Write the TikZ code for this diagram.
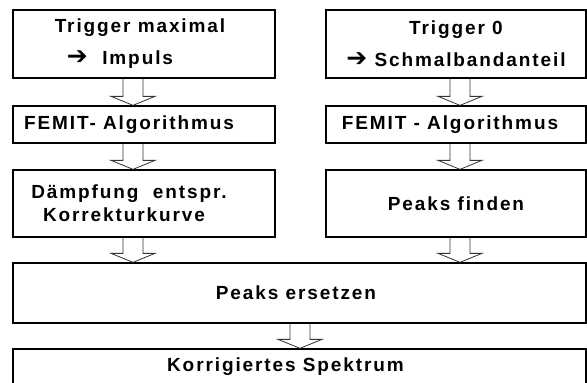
\documentclass[tikz,border=0pt]{standalone}
\usepackage{fontspec}
\setmainfont{Liberation Sans}
\newfontfamily\kastenfont{Liberation Sans Bold}[LetterSpace=10]
\newfontfamily\pfeilfont{DejaVu Sans Bold}
\usetikzlibrary{calc}
\newcommand\pfeil{{\pfeilfont\fontsize{25}{20}\selectfont ➔}}
\tikzset{
    kasten/.style={
        draw,
        line width=1.3pt,
        rectangle,
        inner sep=0pt,
        align=center,
        font=\kastenfont\fontsize{19}{23}\selectfont
    },
    hohlpfeil/.style={
        draw=black!80,
        line width=0.8pt,
        to path={let \p1=(\tikztostart), \p2=(\tikztotarget) in
            (\x1-10pt,\y1) -- (\x1-10pt,\y2+9pt) -- (\x1-22pt,\y2+9pt)
            -- (\x1,\y2) -- (\x1+22pt,\y2+9pt) -- (\x1+10pt,\y2+9pt)
            -- (\x1+10pt,\y1)}
    }
}
\begin{document}
\begin{tikzpicture}[
    x=1pt,
    y=1pt
]
    \useasboundingbox (0,0) rectangle (587,-383);

    % Kästen
    \node[kasten, minimum width=262, minimum height=68] (trigL) at (144,-44)
        {Trigger maximal\hspace*{8pt}\\[9pt]\pfeil\ \ Impuls\hspace*{48pt}};
    \node[kasten, minimum width=260, minimum height=68] (trigR) at (456,-44)
        {Trigger 0\\[9pt]\pfeil\ Schmalbandanteil};

    \node[kasten, minimum width=262, minimum height=37] (femitL) at (144,-124.5)
        {FEMIT- Algorithmus\hspace*{30pt}};
    \node[kasten, minimum width=260, minimum height=37] (femitR) at (456,-124.5)
        {FEMIT - Algorithmus\hspace*{12pt}};

    \node[kasten, minimum width=262, minimum height=67] (daempf) at (144,-203.5)
        {Dämpfung\ \ entspr.\hspace*{30pt}\\Korrekturkurve\hspace*{40pt}};
    \node[kasten, minimum width=260, minimum height=67] (finden) at (456,-203.5)
        {Peaks finden};

    \node[kasten, minimum width=573, minimum height=60] (ersetzen) at (299.5,-293)
        {Peaks ersetzen\hspace*{7pt}};
    \node[kasten, minimum width=573, minimum height=36] (spektrum) at (299.5,-367)
        {Korrigiertes Spektrum\hspace*{28pt}};

    % Pfeile
    \path[hohlpfeil]
        ([xshift=-11pt]trigL.south) to (femitL.north)
        ([xshift=4pt]trigR.south)   to (femitR.north)
        ([xshift=-11pt]femitL.south) to (daempf.north)
        ([xshift=4pt]femitR.south)   to (finden.north)
        ([xshift=-11pt]daempf.south) to (ersetzen.north)
        ([xshift=4pt]finden.south)   to (ersetzen.north)
        ([xshift=0.5pt]ersetzen.south) to (spektrum.north);

\end{tikzpicture}
\end{document}
